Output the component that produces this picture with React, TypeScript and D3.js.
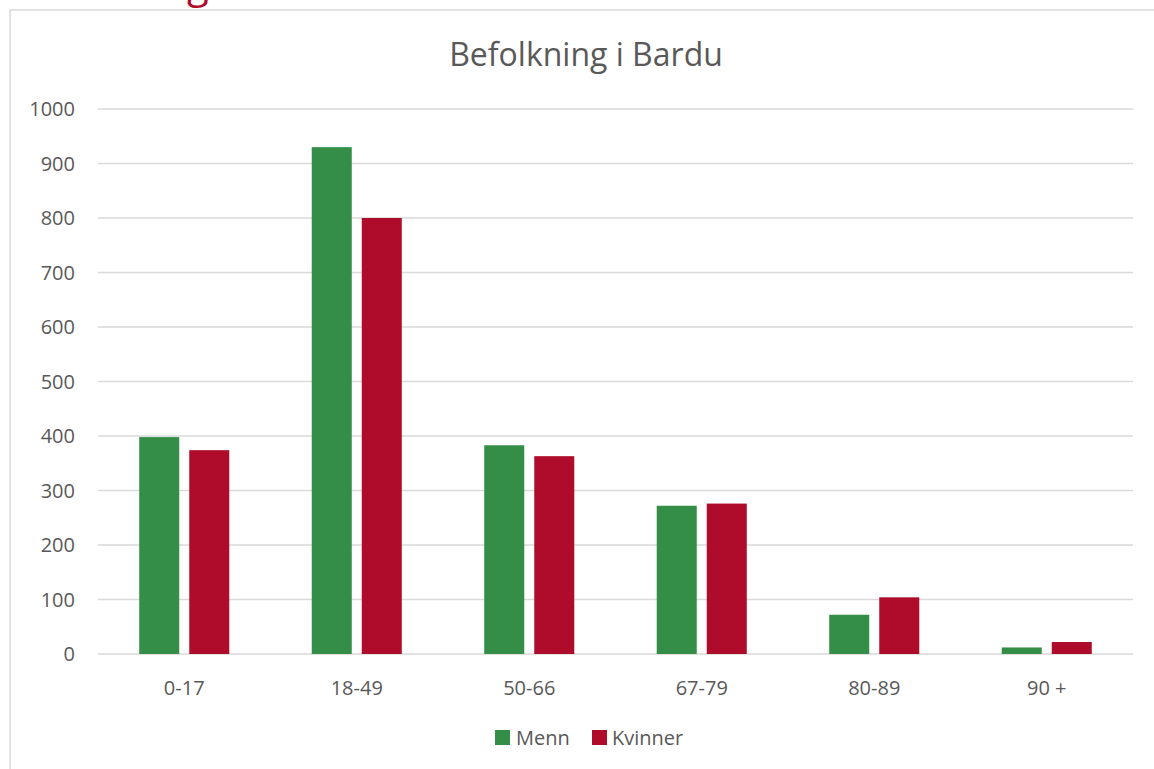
import React from "react";
import * as d3 from "d3";

const WIDTH = 1154;
const HEIGHT = 769;
const margin = { top: 109, right: 21, bottom: 115, left: 98 };

const categories = ["0-17", "18-49", "50-66", "67-79", "80-89", "90 +"];
const series = ["Menn", "Kvinner"];
const menn = [398, 930, 383, 272, 72, 12];
const kvinner = [374, 800, 363, 276, 104, 22];
const yTicks = [0, 100, 200, 300, 400, 500, 600, 700, 800, 900, 1000];
const colors = ["#348e48", "#ae0c2a"];

const FONT = "'Open Sans', sans-serif";
const TEXT = "#595959";

export default function App() {
  const x0 = d3
    .scaleBand()
    .domain(categories)
    .range([margin.left, WIDTH - margin.right])
    .paddingInner(0.478)
    .paddingOuter(0.239);

  const x1 = d3
    .scaleBand()
    .domain(series)
    .range([0, x0.bandwidth()])
    .paddingInner(0.2);

  const y = d3
    .scaleLinear()
    .domain([0, 1000])
    .range([HEIGHT - margin.bottom, margin.top]);

  const values = [menn, kvinner];

  return (
    <svg
      width={WIDTH}
      height={HEIGHT}
      style={{ position: "absolute", left: 0, top: 0, background: "#fff" }}
      fontFamily={FONT}
    >
      {/* heading above the frame, mostly outside the picture */}
      <text x={11} y={-2} fontSize={40} fill="#ae0c2a">
        Befolkning
      </text>

      <rect
        x={10}
        y={10}
        width={WIDTH + 20}
        height={HEIGHT + 20}
        fill="none"
        stroke="#d9d9d9"
        strokeWidth={1.5}
      />

      <text x={586} y={66} textAnchor="middle" fontSize={32} fill={TEXT}>
        Befolkning i Bardu
      </text>

      {/* gridlines + y labels */}
      {yTicks.map((t) => (
        <g key={t}>
          <line
            x1={margin.left}
            x2={WIDTH - margin.right}
            y1={y(t)}
            y2={y(t)}
            stroke="#d9d9d9"
            strokeWidth={1.5}
          />
          <text
            x={75}
            y={y(t)}
            dy="0.35em"
            textAnchor="end"
            fontSize={20}
            fill={TEXT}
          >
            {t}
          </text>
        </g>
      ))}

      {/* bars */}
      {categories.map((c, i) => (
        <g key={c} transform={`translate(${x0(c)},0)`}>
          {series.map((s, j) => (
            <rect
              key={s}
              x={x1(s)}
              y={y(values[j][i])}
              width={x1.bandwidth()}
              height={y(0) - y(values[j][i])}
              fill={colors[j]}
            />
          ))}
          <text
            x={x0.bandwidth() / 2}
            y={688}
            dy="0.35em"
            textAnchor="middle"
            fontSize={20}
            fill={TEXT}
          >
            {c}
          </text>
        </g>
      ))}

      {/* legend */}
      <g transform="translate(495,738)">
        <rect x={0} y={-8} width={15} height={15} fill={colors[0]} />
        <text x={21} y={0} dy="0.35em" fontSize={20} fill={TEXT}>
          Menn
        </text>
        <rect x={97} y={-8} width={15} height={15} fill={colors[1]} />
        <text x={117} y={0} dy="0.35em" fontSize={20} fill={TEXT}>
          Kvinner
        </text>
      </g>
    </svg>
  );
}
